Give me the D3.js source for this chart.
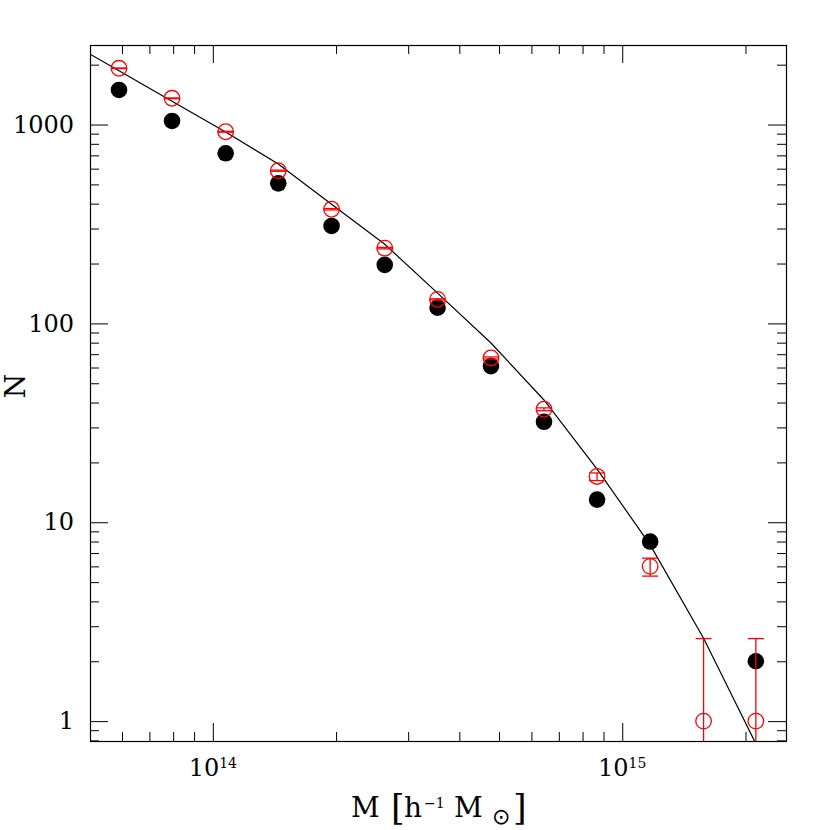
<!DOCTYPE html>
<html>
<head>
<meta charset="utf-8">
<script src="https://cdn.jsdelivr.net/npm/d3@7"></script>
<style>
    body { margin: 0; background: #fff; }
    svg { display: block; }
    text { font-family: "DejaVu Serif", serif; fill: #000; }
</style>
</head>
<body>
<svg></svg>
<script>
let width = 830, height = 830;

let svg = d3.select("svg")
    .attr("width", width)
    .attr("height", height);

// halo mass bins (h^-1 Msun) and counts
let mass = [5.9e13, 7.95e13, 1.075e14, 1.445e14, 1.95e14, 2.63e14, 3.54e14, 4.78e14, 6.44e14, 8.68e14, 1.17e15, 1.58e15, 2.12e15];
let countBlack = [1492, 1042, 717, 506, 309, 197, 120, 61, 32, 13, 8, null, 2];
let countRed = [1918, 1355, 920, 586, 375, 239, 132, 67, 37, 17, 6, 1, 1];
let redLow = [1911, 1349, 915, 582, 372, 237, 131, 66.2, 36.4, 16.2, 5.36, 0.3, 0.3];
let redHigh = [1925, 1361, 925, 590, 378, 241, 133, 67.8, 37.6, 17.7, 6.6, 2.6, 2.6];

// model curve
let modelMass = [4.38e13, 5.9e13, 7.95e13, 1.075e14, 1.445e14, 1.95e14, 2.63e14, 3.54e14, 4.78e14, 6.44e14, 8.68e14, 1.17e15, 1.58e15, 2.12e15];
let modelN = [2650, 1866, 1309, 917, 633, 397, 250, 142, 79.7, 41.2, 18.5, 7.7, 2.61, 0.77];

let xMajor = [1e14, 1e15];
let xMajorExp = ["14", "15"];
let yMajor = [1, 10, 100, 1000];
let yMajorLabels = ["1", "10", "100", "1000"];

let pLeft = 90, pRight = 786, pTop = 45, pBottom = 741;

let x = d3.scaleLog()
    .domain([Math.pow(10, 13.7), Math.pow(10, 15.4)])
    .range([pLeft, pRight]);
let y = d3.scaleLog()
    .domain([Math.pow(10, -0.1), Math.pow(10, 3.4)])
    .range([pBottom, pTop]);

let isMinor = d => Math.abs(Math.log10(d) - Math.round(Math.log10(d))) > 1e-6;
let xMinor = x.ticks().filter(isMinor);
let yMinor = y.ticks().filter(isMinor);

svg.append("defs").append("clipPath")
    .attr("id", "plot")
    .append("rect")
    .attr("x", pLeft).attr("y", pTop)
    .attr("width", pRight - pLeft).attr("height", pBottom - pTop);

// ticks on all four sides, pointing inward
function ticks(axis, vals, size, tx, ty) {
    let g = svg.append("g")
        .attr("transform", "translate(" + tx + "," + ty + ")")
        .call(axis.tickValues(vals).tickSize(-size).tickSizeOuter(0).tickFormat(""));
    g.select(".domain").remove();
    g.selectAll("line").attr("stroke", "#000");
    return g;
}
ticks(d3.axisBottom(x), xMinor, 9, 0, pBottom);
ticks(d3.axisBottom(x), xMajor, 18, 0, pBottom);
ticks(d3.axisTop(x), xMinor, 9, 0, pTop);
ticks(d3.axisTop(x), xMajor, 18, 0, pTop);
ticks(d3.axisLeft(y), yMinor, 9, pLeft, 0);
ticks(d3.axisRight(y), yMinor, 9, pRight, 0);
ticks(d3.axisRight(y), yMajor, 18, pRight, 0);

let yAxis = svg.append("g")
    .attr("transform", "translate(" + pLeft + ",0)")
    .call(d3.axisLeft(y).tickValues(yMajor).tickSize(-18).tickSizeOuter(0).tickPadding(16)
        .tickFormat((d, i) => yMajorLabels[i]));
yAxis.select(".domain").remove();
yAxis.selectAll("line").attr("stroke", "#000");
yAxis.selectAll("text")
    .attr("fill", "#000")
    .style("font-family", "DejaVu Serif")
    .style("font-size", "24px");

// x tick labels 10^n
let xl = svg.append("g")
    .selectAll("text")
    .data(xMajor)
    .enter()
    .append("text")
    .attr("x", d => x(d))
    .attr("y", 776)
    .attr("text-anchor", "middle")
    .style("font-size", "24px");
xl.append("tspan").text("10");
xl.append("tspan")
    .attr("dy", -8)
    .style("font-size", "14px")
    .text((d, i) => xMajorExp[i]);

// frame
svg.append("rect")
    .attr("x", pLeft + 0.5).attr("y", pTop + 0.5)
    .attr("width", pRight - pLeft).attr("height", pBottom - pTop)
    .attr("fill", "none")
    .attr("stroke", "#000")
    .attr("stroke-width", 1.2);

let plot = svg.append("g").attr("clip-path", "url(#plot)");

// model line
plot.append("path")
    .datum(modelMass.map((m, i) => [m, modelN[i]]))
    .attr("d", d3.line().x(d => x(d[0])).y(d => y(d[1])))
    .attr("fill", "none")
    .attr("stroke", "#000")
    .attr("stroke-width", 1.2);

// filled black points
plot.append("g")
    .selectAll("circle")
    .data(mass.map((m, i) => [m, countBlack[i]]).filter(d => d[1] != null))
    .enter()
    .append("circle")
    .attr("cx", d => x(d[0]))
    .attr("cy", d => y(d[1]))
    .attr("r", 8.3)
    .attr("fill", "#000");

// red open points with error bars
let red = plot.append("g")
    .attr("stroke", "#ff0000")
    .attr("stroke-width", 1.3)
    .attr("fill", "none")
    .selectAll("g")
    .data(mass.map((m, i) => ({ m: m, n: countRed[i], lo: redLow[i], hi: redHigh[i] })))
    .enter()
    .append("g");
red.append("line")
    .attr("x1", d => x(d.m)).attr("x2", d => x(d.m))
    .attr("y1", d => y(d.lo)).attr("y2", d => y(d.hi));
red.append("line")
    .attr("x1", d => x(d.m) - 8).attr("x2", d => x(d.m) + 8)
    .attr("y1", d => y(d.lo)).attr("y2", d => y(d.lo));
red.append("line")
    .attr("x1", d => x(d.m) - 8).attr("x2", d => x(d.m) + 8)
    .attr("y1", d => y(d.hi)).attr("y2", d => y(d.hi));
red.append("circle")
    .attr("cx", d => x(d.m))
    .attr("cy", d => y(d.n))
    .attr("r", 7.8);

// axis titles
let xt = svg.append("text")
    .attr("y", 817)
    .style("font-size", "28px");
xt.append("tspan").attr("x", 351).text("M");
xt.append("tspan").attr("x", 391).attr("y", 820).style("font-size", "35px").text("[");
xt.append("tspan").attr("x", 404).attr("y", 817).text("h");
xt.append("tspan").attr("x", 424).attr("y", 807.5).style("font-size", "14px").text("\u22121");
xt.append("tspan").attr("x", 454).attr("y", 817).text("M");
xt.append("tspan").attr("x", 492).attr("y", 824).style("font-size", "22px").style("font-family", "DejaVu Sans").text("\u2299");
xt.append("tspan").attr("x", 513).attr("y", 820).style("font-size", "35px").text("]");

svg.append("text")
    .attr("transform", "translate(25,386) rotate(-90)")
    .attr("text-anchor", "middle")
    .style("font-size", "28px")
    .text("N");
</script>
</body>
</html>
